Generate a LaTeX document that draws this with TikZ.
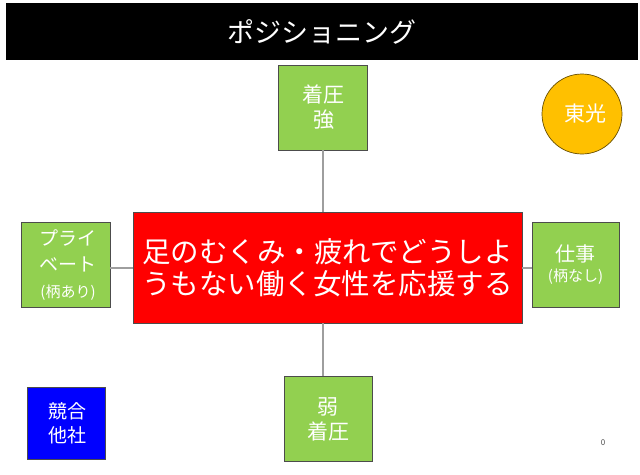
\documentclass[tikz,border=0pt]{standalone}
\usepackage{fontspec}
\setmainfont{Noto Sans CJK JP}
\begin{document}
\begin{tikzpicture}[x=1pt,y=-1pt,
  box/.style={draw=black!70,line width=0.7pt,fill=boxgreen,text=white,align=center,inner sep=0pt,minimum width=89pt,minimum height=85pt},
  conn/.style={draw=black!38,line width=2pt}]
\definecolor{boxgreen}{HTML}{92D050}
\definecolor{circorange}{HTML}{FFC000}
\useasboundingbox[fill=white] (0,0) rectangle (640,474);
\node[fill=black,minimum width=632pt,minimum height=57pt,inner sep=0pt,text=white,font=\fontsize{27}{30}\selectfont] (title) at (322,31.5) {ポジショニング};
\node[box,font=\fontsize{21}{25}\selectfont] (top) at (322.5,107.5) {\hspace*{2pt}着圧\\\hspace*{2pt}強};
\node[box,minimum width=88pt,font=\fontsize{21}{25}\selectfont] (bot) at (328,419) {弱\\着圧};
\node[box,font=\fontsize{19}{26}\selectfont] (left) at (65.5,265) {\hspace*{5pt}プライ\\\hspace*{5pt}ベート\\{\fontsize{15}{22}\selectfont \hspace*{5pt}(柄あり)}};
\node[box,minimum width=87pt,font=\fontsize{20}{20}\selectfont] (right) at (575.5,264.5) {仕事\\{\fontsize{15}{15}\selectfont (柄なし)}};
\node[draw=black!70,line width=0.7pt,fill=red,text=white,align=center,inner sep=0pt,minimum width=389pt,minimum height=111pt,font=\fontsize{28.5}{32}\selectfont] (red) at (327.5,267.5) {足のむくみ・疲れでどうしよ\\うもない働く女性を応援する};
\node[draw=black!70,line width=0.7pt,fill=blue,text=white,align=center,inner sep=0pt,minimum width=78pt,minimum height=72pt,font=\fontsize{19}{24}\selectfont] (comp) at (66,423) {\hspace*{4pt}競合\\\hspace*{4pt}他社};
\node[circle,draw=black!60!circorange,line width=0.7pt,fill=circorange,text=white,inner sep=0pt,minimum size=80pt,font=\fontsize{21}{24}\selectfont] (toko) at (582,114) {\hspace*{6pt}東光};
\node[text=black!70,font=\fontsize{8}{8}\selectfont,inner sep=0pt] (page) at (603,443) {0};
\draw[conn] (top.south) -- (top.south |- red.north);
\draw[conn] (red.south -| top.south) -- (bot.north -| top.south);
\draw[conn] (red.west) -- (red.west -| left.east);
\draw[conn] (red.east) -- (red.east -| right.west);
\end{tikzpicture}
\end{document}
